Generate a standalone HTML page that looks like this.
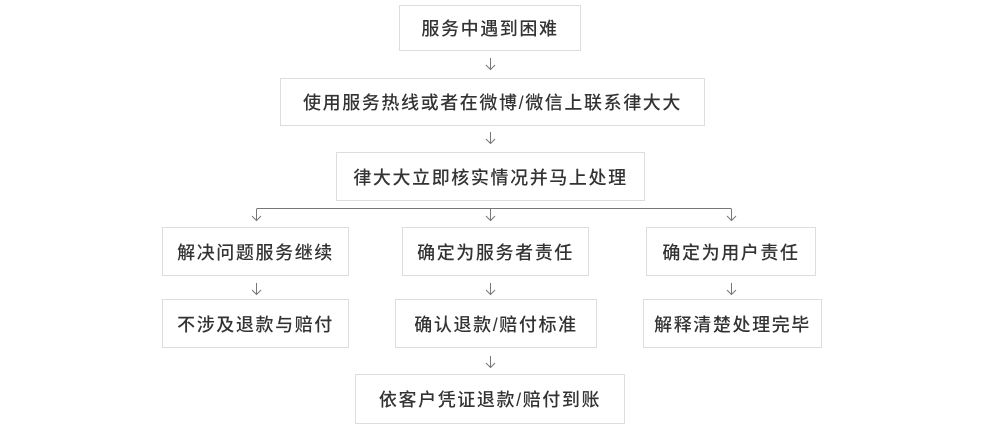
<!DOCTYPE html>
<html><head><meta charset="utf-8"><style>
body{margin:0;width:1000px;height:425px;background:#fff;position:relative;overflow:hidden;font-family:"Liberation Sans","Noto Sans CJK SC",sans-serif}
.b{position:absolute;box-sizing:border-box;border:1px solid #ddd;display:flex;align-items:center;justify-content:center;font-size:18px;letter-spacing:1.6px;color:#333;white-space:nowrap;font-weight:500}
svg{position:absolute;left:0;top:0}
</style></head><body>
<div class="b" style="left:399px;top:5px;width:182px;height:46px">服务中遇到困难</div>
<div class="b" style="left:280px;top:78px;width:425px;height:48px">使用服务热线或者在微博/微信上联系律大大</div>
<div class="b" style="left:336px;top:152px;width:309px;height:49px">律大大立即核实情况并马上处理</div>
<div class="b" style="left:162px;top:227px;width:187px;height:49px">解决问题服务继续</div>
<div class="b" style="left:402px;top:227px;width:187px;height:49px">确定为服务者责任</div>
<div class="b" style="left:646px;top:227px;width:170px;height:49px">确定为用户责任</div>
<div class="b" style="left:162px;top:299px;width:187px;height:49px">不涉及退款与赔付</div>
<div class="b" style="left:395px;top:299px;width:202px;height:49px">确认退款/赔付标准</div>
<div class="b" style="left:643px;top:299px;width:179px;height:49px">解释清楚处理完毕</div>
<div class="b" style="left:355px;top:374px;width:270px;height:50px">依客户凭证退款/赔付到账</div>
<svg width="1000" height="425" stroke="#777" stroke-width="1" fill="none">
<defs><g id="a"><path d="M0.5 0V11M-4 7L0.5 11.5L5 7"/></g></defs>
<path d="M256.5 208.5H731.5"/>
<use href="#a" x="490" y="58"/>
<use href="#a" x="490" y="132"/>
<use href="#a" x="256" y="209"/>
<use href="#a" x="490" y="209"/>
<use href="#a" x="731" y="209"/>
<use href="#a" x="256" y="283"/>
<use href="#a" x="490" y="283"/>
<use href="#a" x="731" y="283"/>
<use href="#a" x="490" y="356"/>
</svg>
</body></html>
